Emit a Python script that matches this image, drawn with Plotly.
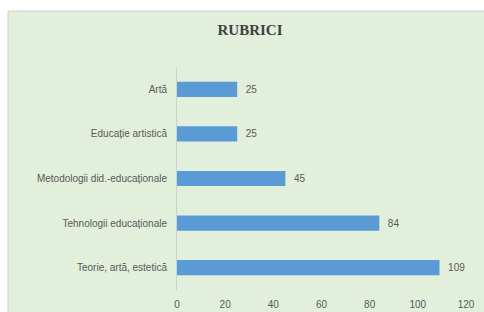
import plotly.graph_objects as go

categories = ["Artă", "Educație artistică", "Metodologii did.-educaționale",
              "Tehnologii educaționale", "Teorie, artă, estetică"]
values = [25, 25, 45, 84, 109]
x_ticks = [0, 20, 40, 60, 80, 100, 120]

W, H = 484, 312
L, R, T, B = 177, 18, 67, 22
pw, ph = W - L - R, H - T - B

def px(x):
    return (x - L) / pw

def py(y):
    return (H - B - y) / ph

GREEN = "#E2EFDA"
GRAY = "#595959"

fig = go.Figure(go.Bar(
    x=values, y=categories, orientation="h",
    marker=dict(color="#5B9BD5", line=dict(width=0)),
    width=0.34,
    text=["\u00a0\u00a0" + str(v) for v in values], textposition="outside",
    constraintext="none",
    textfont=dict(family="Liberation Sans", size=10, color=GRAY),
    cliponaxis=False,
))

fig.add_shape(type="rect", xref="paper", yref="paper",
              x0=px(8), x1=px(W + 5), y0=py(11), y1=py(H + 5),
              fillcolor=GREEN, line=dict(color="#D0D0D0", width=1), layer="below")

fig.update_layout(
    width=W, height=H,
    margin=dict(l=L, r=R, t=T, b=B, pad=0, autoexpand=False),
    paper_bgcolor="white", plot_bgcolor="rgba(0,0,0,0)",
    showlegend=False,
    title=dict(text="<b>RUBRICI</b>", x=(250) / W, xanchor="center",
               y=1 - 30 / H, yanchor="middle",
               font=dict(family="Liberation Serif", size=15, color="#404040")),
    xaxis=dict(range=[0, 120], tickvals=x_ticks, showgrid=False, zeroline=False,
               showline=False, ticks="", ticklabelstandoff=7, automargin=False,
               tickfont=dict(family="Liberation Sans", size=10, color=GRAY)),
    yaxis=dict(autorange="reversed", showgrid=False, zeroline=False,
               showline=True, linecolor="#D0D0D0", linewidth=1, ticks="",
               ticklabelstandoff=7, automargin=False,
               tickfont=dict(family="Liberation Sans", size=10, color=GRAY)),
)

fig.write_html("out.html", config={"displayModeBar": False},
               post_script="document.body.style.margin='0';document.body.style.overflow='hidden';")
